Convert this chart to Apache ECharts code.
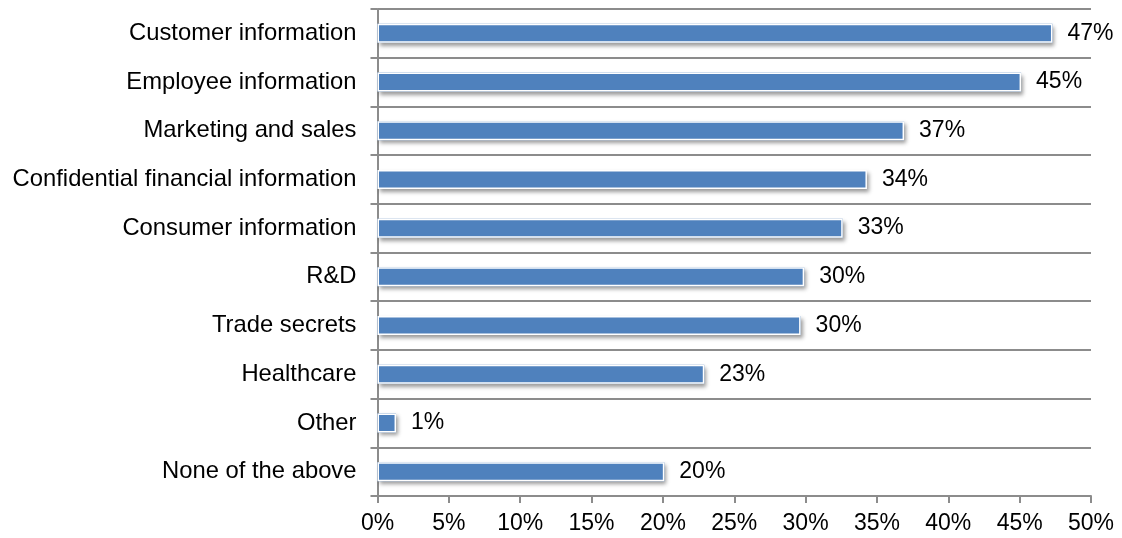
<!DOCTYPE html>
<html>
<head>
<meta charset="utf-8">
<script src="https://cdn.jsdelivr.net/npm/echarts@6/dist/echarts.min.js"></script>
<style>
html,body{margin:0;padding:0;background:#fff;}
#chart{width:1122px;height:538px;}
</style>
</head>
<body>
<div id="chart"></div>
<script>
const categories = [
  "Customer information",
  "Employee information",
  "Marketing and sales",
  "Confidential financial information",
  "Consumer information",
  "R&D",
  "Trade secrets",
  "Healthcare",
  "Other",
  "None of the above"
];
const values = [47.3, 45.1, 36.9, 34.3, 32.6, 29.9, 29.65, 22.9, 1.3, 20.1];
const valueLabels = ["47%", "45%", "37%", "34%", "33%", "30%", "30%", "23%", "1%", "20%"];
const xTicks = [0, 5, 10, 15, 20, 25, 30, 35, 40, 45, 50];

const FONT = "'Liberation Sans', Arial, Helvetica, sans-serif";
const chart = echarts.init(document.getElementById('chart'), null, {renderer: 'canvas'});
chart.setOption({
  animation: false,
  backgroundColor: '#ffffff',
  grid: {left: 377.5, right: 31, top: 9, bottom: 42, containLabel: false},
  xAxis: {
    type: 'value',
    min: xTicks[0],
    max: xTicks[xTicks.length - 1],
    interval: 5,
    axisLine: {show: true, lineStyle: {color: '#8c8c8c', width: 2}},
    axisTick: {show: true, length: 7, lineStyle: {color: '#8c8c8c', width: 2}},
    splitLine: {show: false},
    axisLabel: {
      color: '#000', fontFamily: FONT, fontSize: 23, margin: 16,
      formatter: v => v + '%'
    }
  },
  yAxis: {
    type: 'category',
    data: categories,
    inverse: true,
    axisLine: {show: true, lineStyle: {color: '#8c8c8c', width: 2}},
    axisTick: {show: true, length: 7, lineStyle: {color: '#8c8c8c', width: 2}},
    splitLine: {show: true, lineStyle: {color: '#8c8c8c', width: 2}},
    axisLabel: {color: '#000', fontFamily: FONT, fontSize: 23.8, margin: 21}
  },
  series: [{
    type: 'bar',
    data: values,
    barWidth: 19,
    silent: true,
    z: 2,
    itemStyle: {
      color: '#4F81BD',
      shadowColor: 'rgba(0,0,0,0.4)',
      shadowBlur: 4,
      shadowOffsetX: 2,
      shadowOffsetY: 3
    }
  }, {
    type: 'bar',
    data: values,
    barWidth: 19,
    barGap: '-100%',
    z: 3,
    itemStyle: {
      color: '#4F81BD',
      borderColor: '#ffffff',
      borderWidth: 1.5
    },
    label: {
      show: true,
      position: 'right',
      distance: 15,
      color: '#000',
      fontFamily: FONT,
      fontSize: 23,
      formatter: p => valueLabels[p.dataIndex]
    }
  }]
});
</script>
</body>
</html>
